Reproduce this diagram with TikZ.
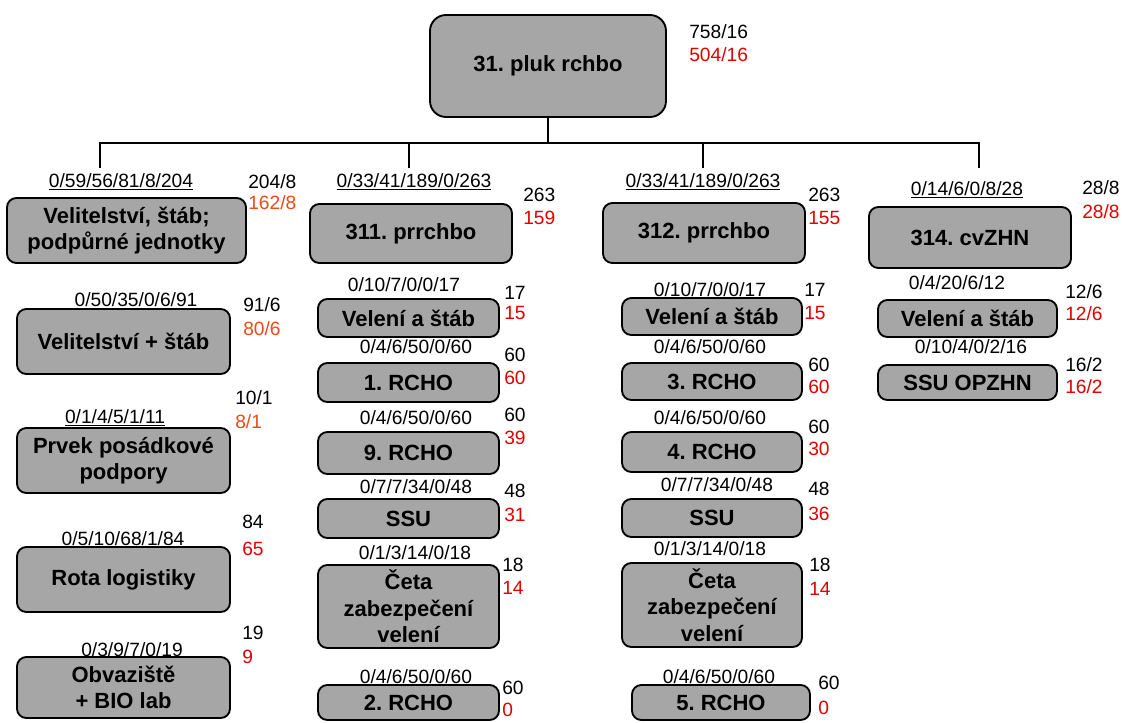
\documentclass[tikz,border=0pt]{standalone}
\usepackage{fontspec}
\setmainfont{Liberation Sans}
\frenchspacing
\usetikzlibrary{positioning}
\definecolor{unitgray}{HTML}{A6A6A6}
\definecolor{realred}{HTML}{E00000}
\definecolor{realorange}{HTML}{EC4A1C}
\tikzset{
  % box of one unit
  unit/.style={draw=black, line width=1.4pt, fill=unitgray, rounded corners=7pt,
    align=center, inner sep=0pt, font=\fontsize{16.5}{19.8}\selectfont\bfseries},
  boxsize/.style 2 args={minimum width=#1*0.75pt, minimum height=#2*0.75pt},
  % tabulated strength above a box
  tab/.style={inner sep=0pt, font=\fontsize{14.4}{16}\selectfont},
  % planned / real numbers beside a box
  num/.style={tab, anchor=west},
  numreal/.style={num, text=realred},
  numlow/.style={num, text=realorange},
  % tree lines
  wire/.style={line width=0.8pt, black},
}

\begin{document}
\begin{tikzpicture}[x=0.75pt, y=-0.75pt]
  \useasboundingbox (0,0) rectangle (1122,722);

  % strengths above the boxes
  \foreach \x/\y/\t [count=\i] in {121/182/{\underline{0/59/56/81/8/204}},
      414/182/{\underline{0/33/41/189/0/263}}, 703/182/{\underline{0/33/41/189/0/263}},
      967/190/{\underline{0/14/6/0/8/28}}, 136/300/{0/50/35/0/6/91},
      115/418/{\underline{0/1/4/5/1/11}}, 123/539/{0/5/10/68/1/84}, 132/650/{0/3/9/7/0/19},
      404/285/{0/10/7/0/0/17}, 416/347/{0/4/6/50/0/60}, 416/418/{0/4/6/50/0/60},
      416/487/{0/7/7/34/0/48}, 415/553/{0/1/3/14/0/18}, 416/677/{0/4/6/50/0/60},
      710/290/{0/10/7/0/0/17}, 710/347/{0/4/6/50/0/60}, 710/418/{0/4/6/50/0/60},
      717/485/{0/7/7/34/0/48}, 710/549/{0/1/3/14/0/18}, 719/677/{0/4/6/50/0/60},
      957/283/{0/4/20/6/12}, 971/347/{0/10/4/0/2/16}}
    \node[tab] (tab\i) at (\x,\y) {\t};

  % planned numbers
  \foreach \x/\y/\t [count=\i] in {689/32/{758/16}, 248/182/{204/8}, 523/195/{263},
      808/195/{263}, 1082/188/{28/8}, 243/305/{91/6}, 235/398/{10/1}, 242/522/{84},
      242/633/{19}, 504/293/{17}, 504/355/{60}, 504/415/{60}, 504/491/{48},
      502/565/{18}, 502/688/{60}, 804/290/{17}, 808/365/{60}, 808/427/{60},
      808/489/{48}, 809/565/{18}, 818/683/{60}, 1065/292/{12/6}, 1065/365/{16/2}}
    \node[num] (plan\i) at (\x,\y) {\t};

  % real numbers
  \foreach \x/\y/\t [count=\i] in {689/55/{504/16}, 523/218/{159}, 808/218/{155},
      1082/212/{28/8}, 242/549/{65}, 242/657/{9}, 504/313/{15}, 504/378/{60},
      504/438/{39}, 504/515/{31}, 502/588/{14}, 502/710/{0}, 804/313/{15},
      808/387/{60}, 808/449/{30}, 808/514/{36}, 809/589/{14}, 818/708/{0},
      1065/314/{12/6}, 1065/387/{16/2}}
    \node[numreal] (real\i) at (\x,\y) {\t};
  \foreach \x/\y/\t [count=\i] in {248/203/{162/8}, 243/329/{80/6}, 235/422/{8/1}}
    \node[numlow] (low\i) at (\x,\y) {\t};

  % regiment and battalions
  \node[unit, rounded corners=12pt, boxsize={236}{102}] (pluk) at (548,66) {31. pluk rchbo};
  \node[unit, boxsize={239}{65}] (velst) at (126.5,230.5) {Velitelství, štáb;\\podpůrné jednotky};
  \node[unit, boxsize={202}{59}] (p311) at (411,233.5) {311. prrchbo};
  \node[unit, boxsize={202}{60}] (p312) at (704,233) {312. prrchbo};
  \node[unit, boxsize={202}{61}] (c314) at (970,237.5) {314. cvZHN};

  % subunits
  \foreach \n/\y/\h/\t in {vs/341.5/65/{Velitelství + štáb}, pp/460.5/65/{Prvek posádkové\\podpory},
      rl/579.5/65/{Rota logistiky}, ob/687.5/61/{Obvaziště\\+ BIO lab}}
    \node[unit, boxsize={213}{\h}] (\n) at (123.5,\y) {\t};
  \foreach \n/\y/\h/\t in {vA/318/38/{Velení a štáb}, r1/382.5/39/{1. RCHO}, r9/453/42/{9. RCHO},
      ssA/518.5/39/{SSU}, cA/606.5/83/{Četa\\zabezpečení\\velení}, r2/702.5/35/{2. RCHO}}
    \node[unit, boxsize={181}{\h}] (\n) at (408.5,\y) {\t};
  \foreach \n/\y/\h/\t in {vB/316.5/37/{Velení a štáb}, r3/381.5/37/{3. RCHO}, r4/452/40/{4. RCHO},
      ssB/518/38/{SSU}, cB/605/84/{Četa\\zabezpečení\\velení}}
    \node[unit, boxsize={180}{\h}] (\n) at (712,\y) {\t};
  \node[unit, boxsize={178}{35}] (r5) at (721,702.5) {5. RCHO};
  \foreach \n/\y/\h/\t in {vC/318.5/37/{Velení a štáb}, so/382.5/35/{SSU OPZHN}}
    \node[unit, boxsize={179}{\h}] (\n) at (967.5,\y) {\t};

  % tree
  \coordinate (bus) at (548,143);
  \coordinate (dA) at (100,168);
  \coordinate (dB) at (409,168);
  \coordinate (dC) at (703,168);
  \coordinate (dD) at (979,168);
  \draw[wire] (pluk.south) -- (bus);
  \draw[wire] (dA) |- (bus) -| (dD);
  \draw[wire] (dB) -- (dB |- bus);
  \draw[wire] (dC) -- (dC |- bus);
\end{tikzpicture}
\end{document}
